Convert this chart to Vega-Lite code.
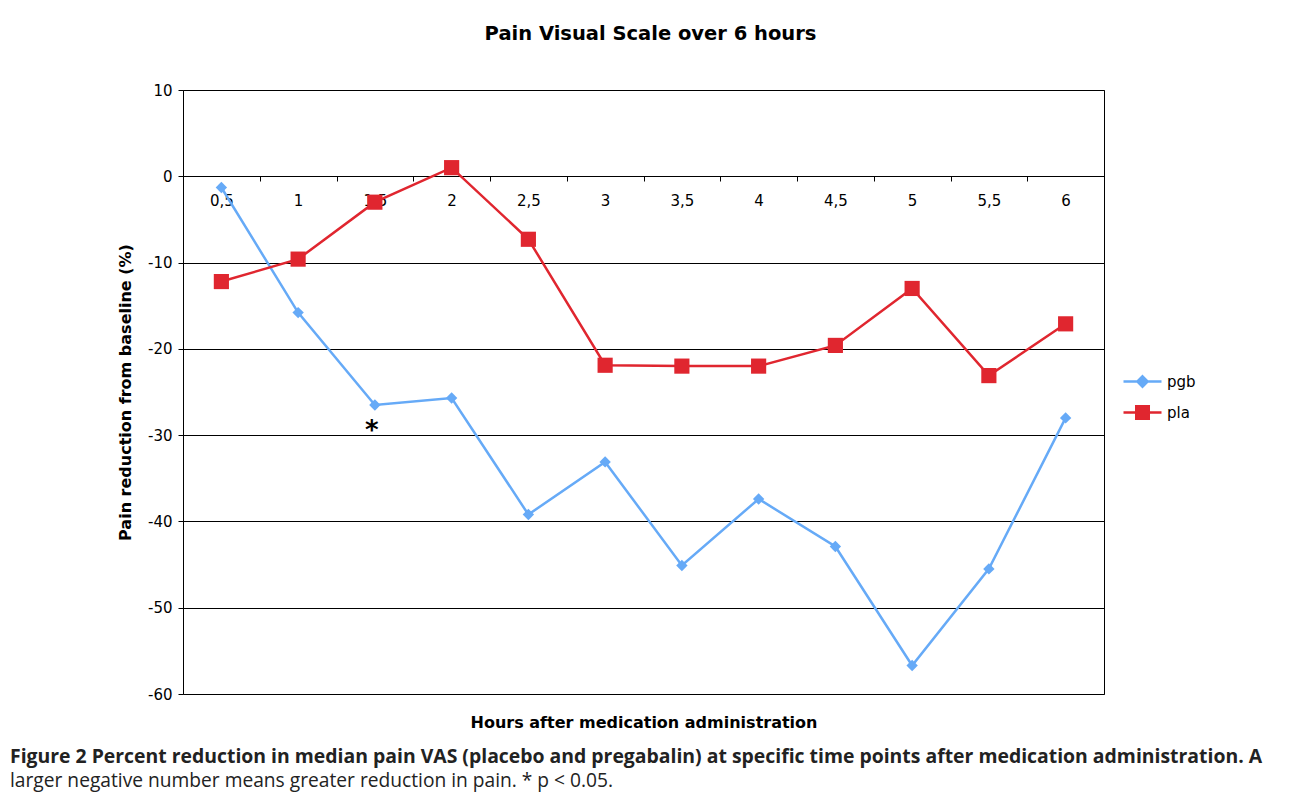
{
  "$schema": "https://vega.github.io/schema/vega-lite/v6.json",
  "padding": {"left": 10, "top": 23, "right": 5, "bottom": 5},
  "background": "white",
  "config": {"font": "DejaVu Sans", "view": {"stroke": "#000", "strokeWidth": 1}},
  "title": {
    "text": "Figure 2 Percent reduction in median pain VAS (placebo and pregabalin) at specific time points after medication administration. A",
    "subtitle": "larger negative number means greater reduction in pain. * p < 0.05.",
    "orient": "bottom", "anchor": "start", "frame": "bounds",
    "font": "Open Sans", "fontSize": 19.4, "fontWeight": "bold", "color": "#222",
    "subtitleFont": "Open Sans", "subtitleFontSize": 19.2, "subtitleFontWeight": "normal", "subtitleColor": "#222",
    "subtitlePadding": 5, "dx": -107, "offset": 17
  },
  "datasets": {
    "series": [
      {"hour": "0,5", "group": "pgb", "value": -1.3},
      {"hour": "1", "group": "pgb", "value": -15.8},
      {"hour": "1,5", "group": "pgb", "value": -26.5},
      {"hour": "2", "group": "pgb", "value": -25.7},
      {"hour": "2,5", "group": "pgb", "value": -39.2},
      {"hour": "3", "group": "pgb", "value": -33.1},
      {"hour": "3,5", "group": "pgb", "value": -45.1},
      {"hour": "4", "group": "pgb", "value": -37.4},
      {"hour": "4,5", "group": "pgb", "value": -42.9},
      {"hour": "5", "group": "pgb", "value": -56.7},
      {"hour": "5,5", "group": "pgb", "value": -45.5},
      {"hour": "6", "group": "pgb", "value": -28.0},
      {"hour": "0,5", "group": "pla", "value": -12.2},
      {"hour": "1", "group": "pla", "value": -9.6},
      {"hour": "1,5", "group": "pla", "value": -3.0},
      {"hour": "2", "group": "pla", "value": 1.0},
      {"hour": "2,5", "group": "pla", "value": -7.3},
      {"hour": "3", "group": "pla", "value": -21.9},
      {"hour": "3,5", "group": "pla", "value": -22.0},
      {"hour": "4", "group": "pla", "value": -22.0},
      {"hour": "4,5", "group": "pla", "value": -19.6},
      {"hour": "5", "group": "pla", "value": -13.0},
      {"hour": "5,5", "group": "pla", "value": -23.1},
      {"hour": "6", "group": "pla", "value": -17.1}
    ],
    "note": [{"hour": "1,5", "value": -29.5, "label": "*"}]
  },
  "vconcat": [
    {
      "width": 921,
      "height": 604,
      "title": {"text": "Pain Visual Scale over 6 hours", "font": "DejaVu Sans", "fontSize": 19.5, "fontWeight": "bold", "color": "#000", "dx": 7, "offset": 39},
      "encoding": {
        "x": {
          "field": "hour", "type": "nominal",
          "scale": {"domain": ["0,5", "1", "1,5", "2", "2,5", "3", "3,5", "4", "4,5", "5", "5,5", "6"], "paddingInner": 0, "paddingOuter": 0},
          "axis": {
            "title": "Hours after medication administration", "offset": -518, "domain": false,
            "tickBand": "extent", "tickSize": 5, "tickColor": "#000", "labelAngle": 0, "labelPadding": 12,
            "labelFontSize": 15, "labelColor": "#000", "labelFont": "DejaVu Sans",
            "titleFontSize": 16, "titleFontWeight": "bold", "titleColor": "#000", "titleY": 538, "grid": false
          }
        },
        "y": {
          "field": "value", "type": "quantitative",
          "scale": {"domain": [-60, 10], "nice": false},
          "axis": {
            "title": "Pain reduction from baseline (%)", "values": [-60, -50, -40, -30, -20, -10, 0, 10],
            "labelExpr": "replace(datum.label, '\u2212', '-')",
            "grid": true, "gridColor": "#000", "gridOpacity": 1, "gridWidth": 1, "domain": false,
            "tickColor": "#000", "tickSize": 5, "labelFontSize": 15, "labelColor": "#000", "labelPadding": 6,
            "titleFontSize": 16, "titleFontWeight": "bold", "titleColor": "#000", "titlePadding": 14
          }
        }
      },
      "layer": [
        {
          "data": {"name": "series"},
          "mark": {"type": "line", "strokeWidth": 2.5},
          "encoding": {
            "stroke": {"field": "group", "type": "nominal", "scale": {"domain": ["pgb", "pla"], "range": ["#66aaf7", "#e0262f"]},
              "legend": {"orient": "none", "legendX": 939, "legendY": 271, "title": null,
                "labelFontSize": 15, "labelFont": "DejaVu Sans", "labelColor": "#000", "labelOffset": 4,
                "symbolSize": 1444, "symbolStrokeWidth": 2.5, "symbolOpacity": 1, "rowPadding": -19}}
          }
        },
        {
          "data": {"name": "series"},
          "mark": {"type": "point", "filled": true, "opacity": 0},
          "encoding": {
            "fill": {"field": "group", "type": "nominal", "scale": {"domain": ["pgb", "pla"], "range": ["#66aaf7", "#e0262f"]},
              "legend": {"orient": "none", "legendX": 939, "legendY": 271, "title": null,
                "labelFontSize": 15, "labelFont": "DejaVu Sans", "labelColor": "#000", "labelOffset": 4,
                "symbolSize": 1444, "symbolStrokeWidth": 2.5, "symbolOpacity": 1, "rowPadding": -19}},
            "stroke": {"field": "group", "type": "nominal"},
            "shape": {"field": "group", "type": "nominal", "scale": {"domain": ["pgb", "pla"], "range": [
              "M-1,0H1M0,-0.27L0.27,0L0,0.27L-0.27,0ZM0,-0.18L0.18,0L0,0.18L-0.18,0ZM0,-0.09L0.09,0L0,0.09L-0.09,0Z",
              "M-1,0H1M-0.33,-0.33H0.33V0.33H-0.33ZM-0.23,-0.23H0.23V0.23H-0.23ZM-0.13,-0.13H0.13V0.13H-0.13ZM-0.04,-0.04H0.04V0.04H-0.04Z"
            ]}}
          }
        },
        {
          "data": {"name": "series"},
          "transform": [{"filter": "datum.group === 'pgb'"}],
          "mark": {"type": "point", "filled": true, "opacity": 1, "shape": "diamond", "size": 130, "color": "#66aaf7"}
        },
        {
          "data": {"name": "series"},
          "transform": [{"filter": "datum.group === 'pla'"}],
          "mark": {"type": "point", "filled": true, "opacity": 1, "shape": "square", "size": 230, "color": "#e0262f"}
        },
        {
          "data": {"name": "note"},
          "mark": {"type": "text", "fontSize": 26, "fontWeight": "bold", "color": "#000", "baseline": "middle", "dx": -3},
          "encoding": {"text": {"field": "label"}}
        }
      ]
    }
  ]
}
